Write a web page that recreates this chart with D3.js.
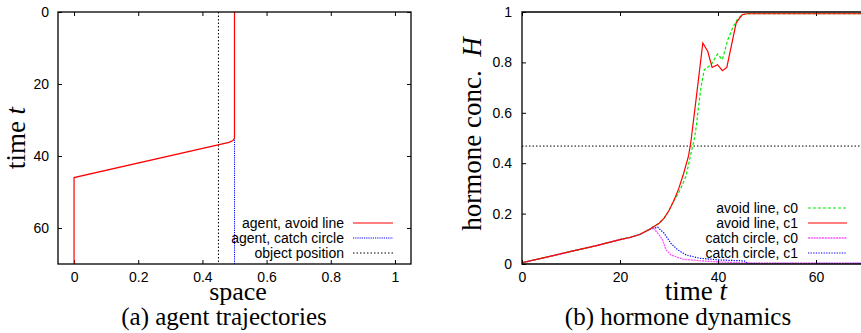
<!DOCTYPE html>
<html lang="en">
<head>
<meta charset="utf-8">
<title>agent trajectories and hormone dynamics</title>
<script src="https://d3js.org/d3.v7.min.js"></script>
<style>
  body { margin: 0; background: #fff; }
  .tick text { font-family: "Liberation Sans", Arial, sans-serif; font-size: 14px; fill: #000; }
  .serif { font-family: "Liberation Serif", "Times New Roman", serif; fill: #000; }
</style>
</head>
<body>
<script>
// ---- panel (a): agent trajectories ----
const avoidTrajX = [0.5, 0.5, 0.495, 0.483, 0, 0]
const avoidTrajT = [0, 35, 35.7, 36.2, 46, 70]
const catchTrajX = [0.5, 0.5]
const catchTrajT = [0, 70]
const objectX = 0.45
const spaceTicks = [0, 0.2, 0.4, 0.6, 0.8, 1]
const timeTicksA = [0, 20, 40, 60]

// ---- panel (b): hormone dynamics ----
const avoidC0T = [0, 5, 10, 15, 20, 22, 24, 26, 27, 28, 29, 30, 31, 31.5, 32.4, 33.5, 34.1, 34.8, 35.2, 35.6, 36, 36.5, 37.2, 38.6, 39.9, 40.9, 42, 43, 43.9, 45, 46, 70]
const avoidC0H = [0.005, 0.027, 0.05, 0.072, 0.097, 0.105, 0.117, 0.137, 0.15, 0.162, 0.182, 0.212, 0.252, 0.266, 0.3, 0.35, 0.405, 0.466, 0.5, 0.55, 0.62, 0.698, 0.771, 0.791, 0.833, 0.811, 0.89, 0.937, 0.97, 0.99, 0.993, 0.993]
const avoidC1T = [0, 5, 10, 15, 20, 22, 24, 26, 27, 28, 29, 30, 31, 32, 33, 34, 34.5, 35.8, 36.9, 37.9, 38.8, 39.9, 40.9, 41.8, 43.7, 44.4, 45, 46, 70]
const avoidC1H = [0.005, 0.027, 0.05, 0.072, 0.097, 0.105, 0.117, 0.137, 0.15, 0.162, 0.182, 0.212, 0.252, 0.3, 0.36, 0.43, 0.49, 0.698, 0.877, 0.844, 0.78, 0.791, 0.767, 0.78, 0.956, 0.976, 0.99, 0.993, 0.993]
const catchC0T = [0, 5, 10, 15, 20, 22, 24, 26, 26.7, 28, 28.7, 29.4, 30.4, 32.8, 36.2, 40.3, 44.3, 48, 70]
const catchC0H = [0.005, 0.027, 0.05, 0.072, 0.097, 0.105, 0.117, 0.137, 0.146, 0.115, 0.095, 0.056, 0.036, 0.019, 0.013, 0.008, 0.005, 0.003, 0.003]
const catchC1T = [0, 5, 10, 15, 20, 22, 24, 26, 27.7, 29, 30.4, 31.8, 33.5, 36.2, 40.3, 44.3, 45.4, 46, 70]
const catchC1H = [0.005, 0.027, 0.05, 0.072, 0.097, 0.105, 0.117, 0.137, 0.146, 0.122, 0.082, 0.056, 0.036, 0.023, 0.016, 0.013, 0.012, 0.003, 0.003]
const threshold = 0.468
const timeTicksB = [0, 20, 40, 60]
const hTicks = [0, 0.2, 0.4, 0.6, 0.8, 1]

const W = 861, H = 333
const svg = d3.select("body").append("svg")
  .attr("width", W).attr("height", H)
  .attr("font-family", "Liberation Sans, sans-serif")

const yTop = 12, yBot = 264

// ---------- panel (a) ----------
const xa = d3.scaleLinear().domain([-0.05, 1.05]).range([58, 411])
const ya = d3.scaleLinear().domain([0, 70]).range([yTop, yBot])

const ga = svg.append("g")
ga.append("g").attr("transform", `translate(0,${yBot})`)
  .call(d3.axisBottom(xa).tickValues(spaceTicks).tickFormat(d3.format("~g")).tickSize(-4).tickSizeOuter(0).tickPadding(8))
ga.append("g").attr("transform", `translate(0,${yTop})`)
  .call(d3.axisTop(xa).tickValues(spaceTicks).tickSize(-4).tickSizeOuter(0).tickFormat(""))
ga.append("g").attr("transform", `translate(58,0)`)
  .call(d3.axisLeft(ya).tickValues(timeTicksA).tickSize(-4).tickSizeOuter(0).tickPadding(9))
ga.append("g").attr("transform", `translate(411,0)`)
  .call(d3.axisRight(ya).tickValues(timeTicksA).tickSize(-4).tickSizeOuter(0).tickFormat(""))
ga.selectAll(".domain").remove()
ga.selectAll(".tick line").attr("stroke", "#000")

const lineA = d3.line().x(d => xa(d[0])).y(d => ya(d[1]))

ga.append("path").datum([[objectX, 0], [objectX, 70]])
  .attr("d", lineA).attr("fill", "none").attr("stroke", "#000")
  .attr("stroke-width", 1).attr("stroke-dasharray", "1.5,2")
ga.append("path").datum(catchTrajX.map((x, i) => [x, catchTrajT[i]]))
  .attr("d", lineA).attr("fill", "none").attr("stroke", "#0000ff")
  .attr("stroke-width", 1).attr("stroke-dasharray", "1.2,1")
ga.append("path").datum(avoidTrajX.map((x, i) => [x, avoidTrajT[i]]))
  .attr("d", lineA).attr("fill", "none").attr("stroke", "#ff0000")
  .attr("stroke-width", 1.2)

ga.append("rect").attr("x", 58).attr("y", yTop).attr("width", 411 - 58).attr("height", yBot - yTop)
  .attr("fill", "none").attr("stroke", "#000").attr("stroke-width", 1.3)

// legend (a)
const legA = [
  { label: "agent, avoid line", color: "#ff0000", dash: null, w: 1.2 },
  { label: "agent, catch circle", color: "#0000ff", dash: "1.2,1", w: 1 },
  { label: "object position", color: "#000", dash: "1.5,2", w: 1 }
]
legA.forEach((d, i) => {
  const y = 223 + i * 15
  ga.append("text").attr("x", 344).attr("y", y).attr("dy", "0.35em")
    .attr("text-anchor", "end").attr("font-size", 14).text(d.label)
  ga.append("line").attr("x1", 353).attr("x2", 393).attr("y1", y).attr("y2", y)
    .attr("stroke", d.color).attr("stroke-width", d.w).attr("stroke-dasharray", d.dash)
})

ga.append("text").attr("class", "serif").attr("font-size", 26)
  .attr("text-anchor", "middle").attr("x", 238).attr("y", 300).text("space")
ga.append("text").attr("class", "serif").attr("font-size", 27)
  .attr("text-anchor", "middle").attr("transform", "translate(25,138) rotate(-90)")
  .html('time <tspan font-style="italic">t</tspan>')
ga.append("text").attr("class", "serif").attr("font-size", 25)
  .attr("text-anchor", "middle").attr("x", 224).attr("y", 325)
  .text("(a) agent trajectories")

// ---------- panel (b) ----------
const xb = d3.scaleLinear().domain([0, 70]).range([522, 865])
const yb = d3.scaleLinear().domain([0, 1]).range([yBot, yTop])

const gb = svg.append("g")
gb.append("g").attr("transform", `translate(0,${yBot})`)
  .call(d3.axisBottom(xb).tickValues(timeTicksB).tickSize(-4).tickSizeOuter(0).tickPadding(8))
gb.append("g").attr("transform", `translate(0,${yTop})`)
  .call(d3.axisTop(xb).tickValues(timeTicksB).tickSize(-4).tickSizeOuter(0).tickFormat(""))
gb.append("g").attr("transform", `translate(522,0)`)
  .call(d3.axisLeft(yb).tickValues(hTicks).tickFormat(d3.format("~g")).tickSize(-4).tickSizeOuter(0).tickPadding(10))
gb.selectAll(".domain").remove()
gb.selectAll(".tick line").attr("stroke", "#000")

const lineB = d3.line().x(d => xb(d[0])).y(d => yb(d[1]))

gb.append("path").datum([[0, threshold], [70, threshold]])
  .attr("d", lineB).attr("fill", "none").attr("stroke", "#000")
  .attr("stroke-width", 1).attr("stroke-dasharray", "1.5,2")

const seriesB = [
  { label: "avoid line, c0", t: avoidC0T, h: avoidC0H, color: "#00ee00", dash: "3,2", w: 1.2 },
  { label: "avoid line, c1", t: avoidC1T, h: avoidC1H, color: "#ff0000", dash: null, w: 1.2 },
  { label: "catch circle, c0", t: catchC0T, h: catchC0H, color: "#ff55ff", dash: "2,0.8", w: 1.3 },
  { label: "catch circle, c1", t: catchC1T, h: catchC1H, color: "#0000ff", dash: "1.3,1.3", w: 1.2 }
]
// draw c1 catch, c0 catch, then avoid lines on top
;[3, 2, 0, 1].forEach(k => {
  const s = seriesB[k]
  gb.append("path").datum(s.t.map((t, i) => [t, s.h[i]]))
    .attr("d", lineB).attr("fill", "none").attr("stroke", s.color)
    .attr("stroke-width", s.w).attr("stroke-dasharray", s.dash)
})

gb.append("path")
  .attr("d", `M865,${yTop}H522V${yBot}H865`)
  .attr("fill", "none").attr("stroke", "#000").attr("stroke-width", 1.3)

seriesB.forEach((d, i) => {
  const y = 208 + i * 15
  gb.append("text").attr("x", 798).attr("y", y).attr("dy", "0.35em")
    .attr("text-anchor", "end").attr("font-size", 14).text(d.label)
  gb.append("line").attr("x1", 808).attr("x2", 847).attr("y1", y).attr("y2", y)
    .attr("stroke", d.color).attr("stroke-width", d.w).attr("stroke-dasharray", d.dash)
})

gb.append("text").attr("class", "serif").attr("font-size", 27)
  .attr("text-anchor", "middle").attr("x", 696).attr("y", 300)
  .html('time <tspan font-style="italic">t</tspan>')
gb.append("text").attr("class", "serif").attr("font-size", 27)
  .attr("text-anchor", "middle").attr("transform", "translate(481,134) rotate(-90)")
  .html('hormone conc.&#160; <tspan font-style="italic">H</tspan>')
gb.append("text").attr("class", "serif").attr("font-size", 25)
  .attr("text-anchor", "middle").attr("x", 678).attr("y", 325)
  .text("(b) hormone dynamics")
</script>
</body>
</html>
